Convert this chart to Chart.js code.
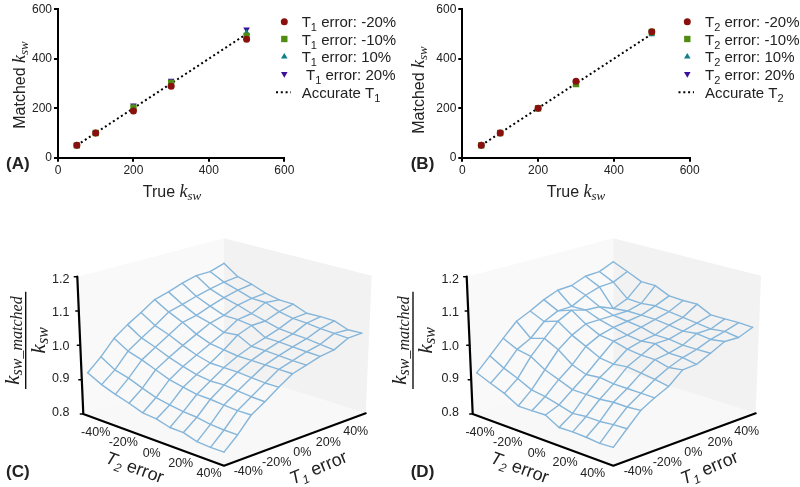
<!DOCTYPE html>
<html><head><meta charset="utf-8">
<style>
html,body{margin:0;padding:0;background:#fff;width:800px;height:487px;overflow:hidden}
canvas{position:absolute;display:block}
</style>
<script src="https://cdn.jsdelivr.net/npm/chart.js@4/dist/chart.umd.js"></script>
</head><body>
<canvas id="a" width="400" height="215" style="left:0;top:0"></canvas>
<canvas id="b" width="400" height="215" style="left:400px;top:0"></canvas>
<canvas id="c" width="380" height="262" style="left:0;top:225px"></canvas>
<canvas id="d" width="420" height="262" style="left:380px;top:225px"></canvas>
<script>
// ---------- data ----------
const trueKsw = [50,100,200,300,500];
const axisTicks = [0,200,400,600];
const errLabels = ['-20%','-10%','10%','20%'];
const t1Minus20 = [50,100,189,289,479];
const t1Minus10 = [50,100,202,302,492];
const t1Plus10  = [50,100,205,305,505];
const t1Plus20  = [50,100,211,311,518];
const t2Minus20 = [50,100,200,309,509];
const t2Minus10 = [50,100,200,298,508];
const t2Plus10  = [50,100,200,300,498];
const t2Plus20  = [50,100,200,304,505];
const errorGrid = [-40,-32,-24,-16,-8,0,8,16,24,32,40];
const pctLabels = ['-40%','-20%','0%','20%','40%'];
const ratioLabels = ['1.2','1.1','1.0','0.9','0.8'];
const ratioTicks = [1.2,1.1,1.0,0.9,0.8];
// rows: T2 error, columns: T1 error
const ratioC = [
[.920,.954,.996,1.024,1.048,1.074,1.085,1.099,1.110,1.110,1.123],
[.900,.930,.972,.998,1.022,1.050,1.060,1.072,1.082,1.090,1.094],
[.886,.920,.960,.984,1.008,1.032,1.040,1.055,1.068,1.078,1.083],
[.875,.905,.945,.968,.990,1.010,1.030,1.040,1.058,1.065,1.068],
[.862,.892,.930,.955,.975,.995,1.015,1.040,1.045,1.065,1.060],
[.859,.885,.922,.945,.965,.990,1.020,1.035,1.035,1.050,1.059],
[.849,.880,.915,.940,.965,.985,1.000,1.012,1.025,1.042,1.044],
[.849,.878,.915,.942,.965,.985,1.000,1.012,1.022,1.040,1.046],
[.838,.872,.912,.938,.962,.985,.998,1.010,1.020,1.036,1.045],
[.836,.870,.910,.935,.960,.985,.996,1.008,1.016,1.034,1.031],
[.837,.870,.911,.934,.961,.985,.996,1.007,1.012,1.032,1.033]];
const ratioD = [
[.920,.957,.996,1.034,1.052,1.074,1.090,1.092,1.108,1.110,1.128],
[.904,.935,.977,.997,1.034,1.053,1.054,1.075,1.088,1.090,1.110],
[.889,.919,.970,1.010,1.048,1.068,1.056,1.053,1.035,1.052,1.091],
[.867,.900,.945,.990,1.020,1.040,1.040,1.040,1.040,1.050,1.091],
[.868,.895,.930,.960,1.000,1.020,1.030,1.035,1.040,1.055,1.072],
[.870,.885,.915,.945,.980,1.015,1.020,1.030,1.040,1.050,1.070],
[.849,.875,.915,.950,.975,1.005,1.015,1.020,1.035,1.045,1.071],
[.851,.880,.915,.945,.980,1.000,1.020,1.020,1.030,1.040,1.051],
[.850,.880,.920,.945,.975,1.000,1.005,1.015,1.035,1.035,1.051],
[.847,.885,.920,.945,.970,.990,1.005,1.015,1.030,1.040,1.052],
[.850,.887,.924,.945,.963,.996,.998,1.016,1.036,1.034,1.050]];

// ---------- shared drawing helpers ----------
const SANS='"Liberation Sans", Arial, sans-serif', SERIF='"Liberation Serif", serif';
const INK='#222';
Chart.defaults.font.family=SANS;
function runs(ctx,x,y,parts,angle){ // centred at x,y
  ctx.save();ctx.translate(x,y);ctx.rotate(angle||0);ctx.textBaseline='alphabetic';ctx.textAlign='left';ctx.fillStyle=INK;
  let w=0;parts.forEach(p=>{ctx.font=p.f;w+=ctx.measureText(p.t).width});
  let cx=-w/2;parts.forEach(p=>{ctx.font=p.f;ctx.fillText(p.t,cx,p.d||0);cx+=ctx.measureText(p.t).width});
  ctx.restore();
}
const kSw=[{t:'k',f:`italic 18px ${SERIF}`},{t:'sw',f:`italic 13px ${SERIF}`,d:3}];

// ---------- scatter panels ----------
function scatterPanel(id,T,vals,geo){
  const mk=(i,style,color,r,rot)=>({label:`${T} error: ${errLabels[i]}`,data:trueKsw.map((x,k)=>({x,y:vals[i][k]})),
    showLine:false,pointStyle:style,pointRadius:r,pointRotation:rot||0,backgroundColor:color,borderColor:color,borderWidth:0,hoverRadius:r});
  const ds=[mk(0,'circle','#8a1010',3.5),mk(1,'rect','#4f8c12',4.5),mk(2,'triangle','#0f7f88',3.8),mk(3,'triangle','#3c1098',3.8,180),
    {label:`Accurate ${T}`,data:trueKsw.map(x=>({x,y:x})),showLine:true,pointRadius:0,borderColor:'#000',borderWidth:2,borderDash:[2,2.8],tension:0,fill:false}];
  const sub=T.slice(1);
  const tk={color:INK,font:{size:12,family:SANS}};
  const plugin={id:'txt'+id,afterDraw(ch){
    const c=ch.ctx,o=geo.ox;
    runs(c,geo.yTitleX-o,geo.yTitleY,[{t:'Matched ',f:`16px ${SANS}`},...kSw],-Math.PI/2);
    runs(c,geo.xTitleX-o,197,[{t:'True ',f:`16px ${SANS}`},...kSw],0);
    c.font=`bold 17px ${SANS}`;c.fillStyle=INK;c.textAlign='left';c.textBaseline='middle';c.fillText(geo.tag,geo.tagX-o,164);
    const ly=[21.7,39,56.7,74,92.3];
    ch.data.datasets.forEach((d,i)=>{
      const base=ly[i]+5.5,tx=geo.legendTextX[i]-o;
      const f=`15px ${SANS}`;
      c.save();c.fillStyle=INK;c.textBaseline='alphabetic';c.textAlign='left';
      if(i<4){
        c.save();c.fillStyle=d.backgroundColor;c.strokeStyle=d.backgroundColor;c.lineWidth=0;
        Chart.helpers.drawPoint(c,{pointStyle:d.pointStyle,radius:d.pointRadius,rotation:d.pointRotation,borderWidth:0},geo.legendX-o,ly[i]);c.restore();
        c.font=f;c.fillText('T',tx,base);let cx=tx+c.measureText('T').width;
        c.font=`11px ${SANS}`;c.fillText(sub,cx,base+4);cx+=c.measureText(sub).width;c.font=f;c.fillText(` error: ${errLabels[i]}`,cx,base);
      }else{
        c.save();c.strokeStyle='#000';c.lineWidth=2;c.setLineDash([2,2.8]);c.beginPath();c.moveTo(geo.legendLine[0]-o,ly[i]);c.lineTo(geo.legendLine[1]-o,ly[i]);c.stroke();c.restore();
        c.font=f;const s='Accurate T';c.fillText(s,tx,base);const cx=tx+c.measureText(s).width;
        c.font=`11px ${SANS}`;c.fillText(sub,cx,base+4);
      }
      c.restore();
    });
  }};
  new Chart(document.getElementById(id),{type:'scatter',data:{datasets:ds},plugins:[plugin],options:{
    responsive:false,animation:false,events:[],
    layout:{padding:{left:0,top:8,right:geo.padR,bottom:37.3}},
    plugins:{legend:{display:false},tooltip:{enabled:false},title:{display:false}},
    scales:{
      x:{type:'linear',min:0,max:600,afterBuildTicks:s=>{s.ticks=axisTicks.map(value=>({value}))},
        grid:{drawOnChartArea:false,color:'#000',lineWidth:2,tickLength:4},border:{color:'#000',width:2},
        ticks:{...tk,padding:2,maxRotation:0},afterFit:s=>{s.height=20}},
      y:{type:'linear',min:0,max:600,afterBuildTicks:s=>{s.ticks=axisTicks.map(value=>({value}))},
        grid:{drawOnChartArea:false,color:'#000',lineWidth:2,tickLength:4},border:{color:'#000',width:2},
        ticks:{...tk,padding:2},afterFit:s=>{s.width=geo.axisX}}
    }}});
}
scatterPanel('a','T1',[t1Minus20,t1Minus10,t1Plus10,t1Plus20],
 {ox:0,axisX:58,padR:115.7,yTitleX:25,yTitleY:85,xTitleX:172,tag:'(A)',tagX:6,legendX:284.3,legendTextX:[301.7,301.7,301.7,306,301.7],legendLine:[276,291]});
scatterPanel('b','T2',[t2Minus20,t2Minus10,t2Plus10,t2Plus20],
 {ox:400,axisX:62.3,padR:110.3,yTitleX:424,yTitleY:90,xTitleX:576,tag:'(B)',tagX:410.7,legendX:687.3,legendTextX:[705,705,705,705,705],legendLine:[678.5,694]});

// ---------- 3-D surface panels (projected through the library's scales) ----------
function surfacePanel(id,rows,g){
  const tri=(P,u,v,w)=>{ // trilinear interpolation between box corners
    const lerp=(a,b,t)=>a+(b-a)*t;
    const f=k=>lerp(
      lerp(lerp(P.L[k],P.B[k],u),lerp(P.F[k],P.R[k],u),v),
      lerp(lerp(P.Lt[k],P.Bt[k],u),lerp(P.Ft[k],P.Rt[k],u),v),w);
    return {x:f(0),y:f(1)};
  };
  const mesh=(t1,t2,z)=>tri(g.mesh,(t1+40)/80,(t2+40)/80,(z-.8)/.4);
  const box=(u,v,z)=>tri(g.box,u,v,(z-.8)/.4);
  const line=(data,color,w)=>({data,showLine:true,pointRadius:0,borderColor:color,borderWidth:w,tension:0,fill:false,clip:false,borderCapStyle:'round',borderJoinStyle:'round'});
  const ds=[];
  ds.push(line([box(0,0,1.2),box(0,0,.8),box(0,1,.8),box(1,1,.8)],'#000',2.2));
  ratioTicks.forEach(z=>{const p=box(0,0,z);ds.push(line([p,{x:p.x-3,y:p.y}],'#000',1.5));});
  const meshColor='#85b6da';
  rows.forEach((r,j)=>ds.push(line(r.map((z,i)=>mesh(errorGrid[i],errorGrid[j],z)),meshColor,1.4)));
  errorGrid.forEach((t1,i)=>ds.push(line(rows.map((r,j)=>mesh(t1,errorGrid[j],r[i])),meshColor,1.4)));
  const plugin={id:'walls'+id,
    beforeDatasetsDraw(ch){
      const c=ch.ctx,X=ch.scales.x,Y=ch.scales.y,B=g.box;
      const poly=(pts,col)=>{c.fillStyle=col;c.beginPath();pts.forEach((p,i)=>{const x=X.getPixelForValue(p[0]),y=Y.getPixelForValue(p[1]);i?c.lineTo(x,y):c.moveTo(x,y)});c.closePath();c.fill();};
      poly([B.L,B.F,B.R,B.B],'#f8f8f8');
      poly([B.L,B.B,B.Bt,B.Lt],'#f9f9f9');
      poly([B.B,B.R,B.Rt,B.Bt],'#f2f2f2');
    },
    afterDraw(ch){
      const c=ch.ctx,X=ch.scales.x,Y=ch.scales.y;
      const px=v=>X.getPixelForValue(v),py=v=>Y.getPixelForValue(v);
      c.save();c.fillStyle=INK;c.font=`12.5px ${SANS}`;c.textBaseline='middle';
      c.textAlign='right';ratioLabels.forEach((t,i)=>c.fillText(t,px(g.zLabelX),py(g.zLabelY[i])));
      c.textAlign='center';
      pctLabels.forEach((t,i)=>{c.fillText(t,px(g.t2Labels[i][0]),py(g.t2Labels[i][1]));c.fillText(t,px(g.t1Labels[i][0]),py(g.t1Labels[i][1]));});
      c.font=`bold 17px ${SANS}`;c.textAlign='left';c.fillText(g.tag,px(g.tagX),py(472));
      c.restore();
      const title=(n)=>[{t:'T',f:`italic 18px ${SANS}`},{t:n,f:`italic 12px ${SANS}`,d:4},{t:' error',f:`18px ${SANS}`}];
      runs(c,px(g.t2Title[0]),py(g.t2Title[1]),title('2'),20*Math.PI/180);
      runs(c,px(g.t1Title[0]),py(g.t1Title[1]),title('1'),-23*Math.PI/180);
      const fx=g.fracX;
      runs(c,px(fx-7),py(340.5),[{t:'k',f:`italic 21px ${SERIF}`},{t:'sw_matched',f:`italic 16px ${SERIF}`,d:3}],-Math.PI/2);
      c.save();c.strokeStyle='#111';c.lineWidth=1.4;c.beginPath();c.moveTo(px(fx),py(291.7));c.lineTo(px(fx),py(389));c.stroke();c.restore();
      runs(c,px(fx+19),py(340.3),[{t:'k',f:`italic 21px ${SERIF}`},{t:'sw',f:`italic 16px ${SERIF}`,d:3}],-Math.PI/2);
    }};
  new Chart(document.getElementById(id),{type:'scatter',data:{datasets:ds},plugins:[plugin],options:{
    responsive:false,animation:false,events:[],
    layout:{padding:0},
    plugins:{legend:{display:false},tooltip:{enabled:false}},
    scales:{x:{type:'linear',display:false,min:g.x0,max:g.x1},y:{type:'linear',display:false,min:225,max:487,reverse:true}}}});
}
const yFloor={L:414,B:368.3,F:465.7,R:413.3}, yTop={L:276.7,B:238.3,F:319,R:275.7};
const frame=(xl,xlt,xm,xr,xrt)=>({L:[xl,yFloor.L],B:[xm,yFloor.B],F:[xm,yFloor.F],R:[xr,yFloor.R],Lt:[xlt,yTop.L],Bt:[xm,yTop.B],Ft:[xm,yTop.F],Rt:[xrt,yTop.R]});
surfacePanel('c',ratioC,{x0:0,x1:380,box:frame(83.3,77.3,224,365.7,371.7),mesh:frame(89.5,83.5,224,358.3,364.3),
  zLabelX:69.5,zLabelY:[279.3,313,346.3,379,412.3],
  t2Labels:[[95.7,432.3],[123.3,442.7],[151.7,453.3],[180.7,463.3],[209,473.3]],
  t1Labels:[[248.3,471.7],[276.7,462.3],[302.3,452.3],[328.3,442.7],[355.7,431.7]],
  t2Title:[132.7,473],t1Title:[320.7,473],tag:'(C)',tagX:6,fracX:25.7});
surfacePanel('d',ratioD,{x0:380,x1:800,box:frame(472.7,466.7,613.3,755.7,761),mesh:frame(478.5,472.5,613.3,749.3,754.7),
  zLabelX:459,zLabelY:[279.3,313,346.3,379,412.3],
  t2Labels:[[480,432.3],[507.7,442.7],[536.7,453.3],[565,462.3],[592.7,473.3]],
  t1Labels:[[638.3,471.7],[667.3,462.3],[693.3,452.3],[720,442.7],[746.7,431.7]],
  t2Title:[517.7,473],t1Title:[711.7,473],tag:'(D)',tagX:410.7,fracX:413});
</script>
</body></html>
